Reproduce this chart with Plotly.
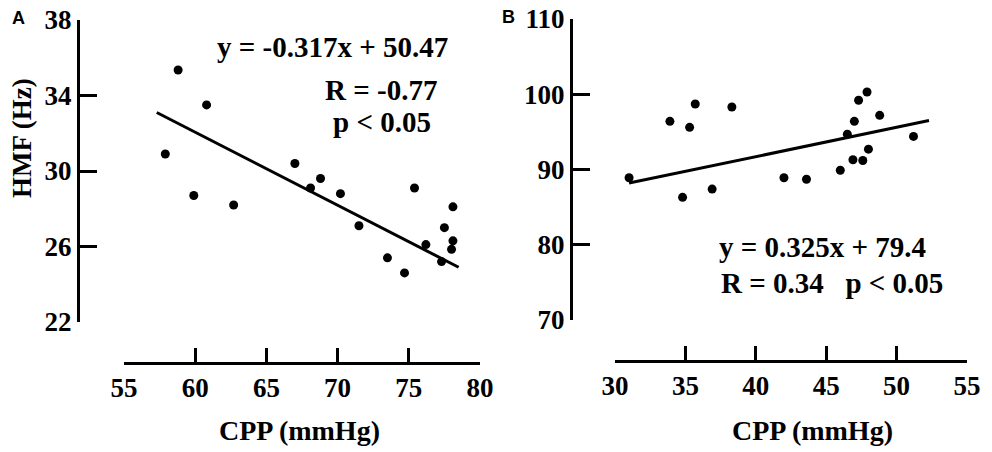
import plotly.graph_objects as go

# panel A: CPP 55-80 mmHg vs HMF
a_cpp = [57.9, 58.8, 60.8, 59.9, 62.7, 67.0, 68.1, 68.8, 70.2, 71.5,
         73.5, 74.7, 75.4, 76.2, 77.3, 77.5, 78.1, 78.1, 78.0]
a_hmf = [30.9, 35.35, 33.5, 28.7, 28.2, 30.4, 29.1, 29.6, 28.8, 27.1,
         25.4, 24.6, 29.1, 26.1, 25.2, 27.0, 28.1, 26.3, 25.85]
a_fit_x = [57.3, 78.5]
a_fit_y = [33.1, 24.9]
a_xticks = [55, 60, 65, 70, 75, 80]
a_yticks = [22, 26, 30, 34, 38]

# panel B: CPP 30-55 mmHg
b_cpp = [31.0, 33.9, 34.8, 35.3, 35.7, 36.9, 38.3, 42.0, 43.6, 46.0,
         46.5, 47.0, 46.9, 47.3, 47.9, 47.6, 48.0, 48.8, 51.2]
b_hmf = [88.9, 96.4, 86.3, 95.6, 98.7, 87.4, 98.3, 88.9, 88.7, 89.9,
         94.7, 96.4, 91.3, 99.2, 100.3, 91.2, 92.7, 97.2, 94.4]
b_fit_x = [31.0, 52.3]
b_fit_y = [88.2, 96.5]
b_xticks = [30, 35, 40, 45, 50, 55]
b_yticks = [70, 80, 90, 100, 110]

W, H = 992, 452
SERIF = "Liberation Serif"
FS = 27


def px(x):
    return x / W


def py(y):
    return 1 - y / H


def serif(size=FS):
    return dict(family=SERIF, size=size, color="black", weight="bold")


fig = go.Figure()

# scatter + fit line for each panel
fig.add_trace(go.Scatter(x=a_cpp, y=a_hmf, mode="markers", xaxis="x", yaxis="y",
                         marker=dict(color="black", size=9)))
fig.add_trace(go.Scatter(x=a_fit_x, y=a_fit_y, mode="lines", xaxis="x", yaxis="y",
                         line=dict(color="black", width=3)))
fig.add_trace(go.Scatter(x=b_cpp, y=b_hmf, mode="markers", xaxis="x2", yaxis="y2",
                         marker=dict(color="black", size=9)))
fig.add_trace(go.Scatter(x=b_fit_x, y=b_fit_y, mode="lines", xaxis="x2", yaxis="y2",
                         line=dict(color="black", width=3)))

# empty helper traces so the detached axes get their own subplots
for xa, ya in [("x3", "y"), ("x", "y3"), ("x4", "y2"), ("x2", "y4")]:
    fig.add_trace(go.Scatter(x=[], y=[], xaxis=xa, yaxis=ya, hoverinfo="skip"))

common_x = dict(showline=True, linecolor="black", linewidth=3, ticks="inside",
                ticklen=14, tickwidth=3, tickcolor="black", showgrid=False,
                zeroline=False, tickfont=serif(), automargin=False,
                ticklabeloverflow="allow")
common_y = dict(showline=True, linecolor="black", linewidth=3, ticks="inside",
                ticklen=17, tickwidth=3, tickcolor="black", showgrid=False,
                zeroline=False, tickfont=serif(), side="left", automargin=False,
                ticklabeloverflow="allow")
hidden = dict(visible=False, showgrid=False, zeroline=False)

fig.update_layout(
    width=W, height=H,
    margin=dict(l=0, r=0, t=0, b=0, autoexpand=False),
    paper_bgcolor="white", plot_bgcolor="rgba(0,0,0,0)",
    showlegend=False,
    xaxis=dict(common_x, domain=[px(124), px(480)], range=[55, 80],
               tickvals=a_xticks, anchor="y3"),
    yaxis=dict(common_y, domain=[py(322), py(20)], range=[22, 38],
               tickvals=a_yticks, anchor="x3"),
    xaxis2=dict(common_x, domain=[px(615), px(967)], range=[30, 55],
                tickvals=b_xticks, anchor="y4"),
    yaxis2=dict(common_y, domain=[py(320), py(19)], range=[70, 110],
                tickvals=b_yticks, anchor="x4"),
    # helper axes: only set where the visible axis lines sit
    xaxis3=dict(hidden, domain=[px(80), px(480)], anchor="y"),
    yaxis3=dict(hidden, domain=[py(362), py(20)], anchor="x"),
    xaxis4=dict(hidden, domain=[px(573), px(967)], anchor="y2"),
    yaxis4=dict(hidden, domain=[py(360), py(19)], anchor="x2"),
)

sans = dict(family="Liberation Sans", size=18, color="black", weight="bold")
texts = [
    ("A", 18, 18, sans, 0),
    ("B", 508, 17, sans, 0),
    ("HMF (Hz)", 22, 138, serif(27), -90),
    ("CPP (mmHg)", 299, 430, serif(28), 0),
    ("CPP (mmHg)", 812, 430, serif(28), 0),
    ("y = -0.317x + 50.47", 332, 47, serif(29), 0),
    ("R = -0.77", 381, 90, serif(29), 0),
    ("p < 0.05", 382, 122, serif(29), 0),
    ("y = 0.325x + 79.4", 822, 247, serif(29), 0),
    ("R = 0.34\u00a0\u00a0\u00a0p < 0.05", 832, 283, serif(29), 0),
]
for t, x, y, f, ang in texts:
    fig.add_annotation(text=t, x=px(x), y=py(y), xref="paper", yref="paper",
                       showarrow=False, font=f, textangle=ang,
                       xanchor="center", yanchor="middle")

# drop the default 8px body margin so the figure fills the window
fig.write_html("out.html", config={"displayModeBar": False},
               post_script="document.body.style.margin = '0px';")
